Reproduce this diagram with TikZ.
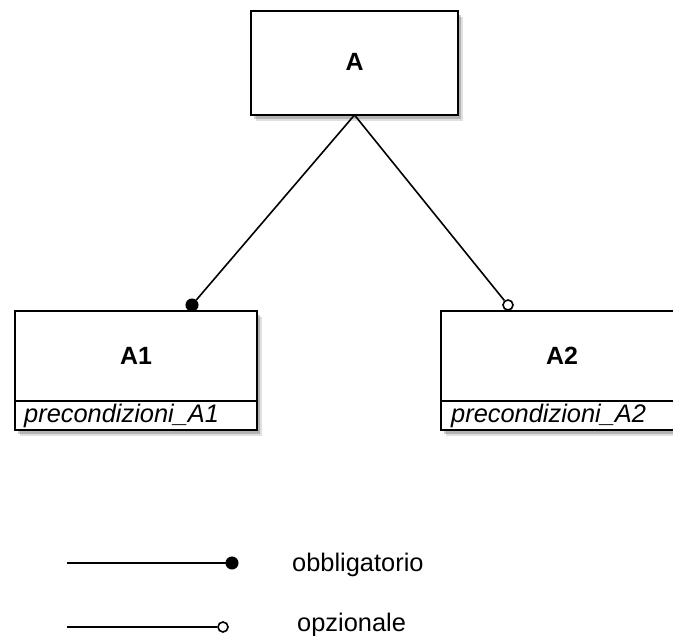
\documentclass[tikz,border=0pt]{standalone}
\usepackage{fontspec}
\setmainfont{Liberation Sans}
\usetikzlibrary{shadows}
\begin{document}
\begin{tikzpicture}[x=1bp,y=-1bp,
  box/.style={draw, line width=1.9bp, fill=white, inner sep=0pt,
    drop shadow={shadow xshift=5bp, shadow yshift=-6bp, opacity=0.12, fill=black},
    drop shadow={shadow xshift=3bp, shadow yshift=-4bp, opacity=0.2, fill=black}},
  title/.style={font=\fontsize{25}{29}\selectfont\bfseries, inner sep=0pt, anchor=base},
  pre/.style={font=\fontsize{25.5}{29}\selectfont\itshape, inner sep=0pt, anchor=base west},
  legtext/.style={font=\fontsize{25.5}{29}\selectfont, inner sep=0pt, anchor=base west},
  conn/.style={line width=1.6bp},
  fulldot/.style={circle, fill=black, draw=black, line width=1bp, inner sep=0pt, minimum size=12bp},
  emptydot/.style={circle, fill=white, draw=black, line width=1.6bp, inner sep=0pt, minimum size=10bp}]
\useasboundingbox (0,0) rectangle (673,636);
\clip (0,0) rectangle (673,636);

% top box
\node[box, minimum width=207bp, minimum height=104bp] (A) at (354.5,63) {};
\node[title] (At) at (354.5,71) {A};

% A1
\node[box, minimum width=242bp, minimum height=119bp] (A1) at (136,370.5) {};
\draw[line width=1.9bp] (15,401) -- (257,401);
\node[title] (A1t) at (136,364) {A1};
\node[pre] (A1p) at (24,422) {precondizioni\_A1};

% A2
\node[box, minimum width=242bp, minimum height=119bp] (A2) at (562,370.5) {};
\draw[line width=1.9bp] (441,401) -- (683,401);
\node[title] (A2t) at (562,364) {A2};
\node[pre] (A2p) at (451,422) {precondizioni\_A2};

% connectors
\coordinate (Ab) at (354.5,115);
\node[fulldot] (d1) at (192,305) {};
\node[emptydot] (d2) at (508,305) {};
\draw[conn] (Ab) -- (d1);
\draw[conn] (Ab) -- (d2);

% legend
\coordinate (l1) at (67,563);
\node[fulldot] (l1e) at (232,563) {};
\draw[conn] (l1) -- (l1e);
\node[legtext] (lt1) at (292,571) {obbligatorio};

\coordinate (l2) at (67,627);
\node[emptydot] (l2e) at (223,627) {};
\draw[conn] (l2) -- (l2e);
\node[legtext] (lt2) at (297,631) {opzionale};
\end{tikzpicture}
\end{document}
